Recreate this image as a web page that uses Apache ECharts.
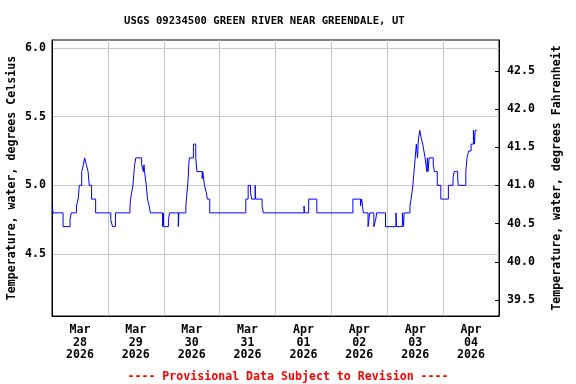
<!DOCTYPE html>
<html>
<head>
<meta charset="utf-8">
<script src="https://cdn.jsdelivr.net/npm/echarts@6/dist/echarts.min.js"></script>
<style>
html,body{margin:0;padding:0;background:#fff;}
#chart{width:576px;height:384px;}
</style>
</head>
<body>
<div id="chart"></div>
<script>
// Hours since 2026-03-28 00:00 at which the reading changes
const hours = [0,0.5,4.75,7.75,8.25,10.5,11.25,11.75,12.75,13.5,14,14.75,15.5,16,17,18.75,
  25.25,26,27.25,33.5,33.75,34.25,34.75,35.25,35.5,36,38.5,39.25,39.5,39.75,40.5,41,41.75,42.25,
  47.5,47.75,48,50,50.5,54.25,54.5,57.5,57.75,58.25,58.5,58.75,59,60.75,61.75,62.25,64.5,64.75,
  65.5,66.25,66.75,67.75,83.25,84.25,85.25,85.75,87.25,87.5,90.25,90.75,108.25,108.5,110.25,113.75,
  129.25,132.5,133,133.75,135.75,136.5,138.25,139,139.5,143.25,147.75,148,150.5,151,151.25,153.75,
  154.25,155,155.5,156,156.5,157,157.25,157.5,158,158.5,159.25,159.75,160.25,161,161.25,161.5,162,
  163.75,164.25,165.5,167,170.25,172.25,172.75,174.25,174.5,177.75,178.25,179,180,181,181.5,181.75,182.5];
// Water temperature, degrees Celsius
const tempC = [4.85,4.8,4.7,4.75,4.8,4.85,4.9,5.0,5.1,5.15,5.2,5.15,5.1,5.0,4.9,4.8,
  4.75,4.7,4.8,4.85,4.9,4.95,5.0,5.1,5.15,5.2,5.15,5.1,5.15,5.1,5.0,4.9,4.85,4.8,
  4.7,4.8,4.7,4.75,4.8,4.7,4.8,4.85,4.9,5.0,5.05,5.15,5.2,5.3,5.2,5.1,5.05,5.1,
  5.0,4.95,4.9,4.8,4.9,5.0,4.95,4.9,5.0,4.9,4.85,4.8,4.85,4.8,4.9,4.8,
  4.9,4.85,4.9,4.8,4.7,4.8,4.7,4.75,4.8,4.7,4.8,4.7,4.8,4.7,4.8,4.85,
  4.9,5.0,5.1,5.2,5.3,5.2,5.3,5.35,5.4,5.35,5.3,5.25,5.2,5.1,5.2,5.1,5.2,
  5.15,5.1,5.0,4.9,5.0,5.05,5.1,5.05,5.0,5.1,5.2,5.25,5.3,5.4,5.3,5.4,5.4];

const dateLabels = ['Mar\n28\n2026','Mar\n29\n2026','Mar\n30\n2026','Mar\n31\n2026',
  'Apr\n01\n2026','Apr\n02\n2026','Apr\n03\n2026','Apr\n04\n2026'];
const celsiusTicks = [4.5, 5.0, 5.5, 6.0];
const fahrenheitTicks = [39.5, 40.0, 40.5, 41.0, 41.5, 42.0, 42.5];

const titleText = 'USGS 09234500 GREEN RIVER NEAR GREENDALE, UT';
const footerText = '---- Provisional Data Subject to Revision ----';
const leftName = 'Temperature, water, degrees Celsius';
const rightName = 'Temperature, water, degrees Fahrenheit';

const cMin = 4.05, cMax = 6.057;
const FONT = 'DejaVu Sans Mono';
const dayStarts = [0,24,48,72,96,120,144,168,192];
const noonPos = dateLabels.map((d,i)=>i*24+12);

const chart = echarts.init(document.getElementById('chart'), null, {renderer:'canvas'});
chart.setOption({
  animation: false,
  backgroundColor: '#fff',
  title: [
    {text: titleText, left: 119, top: 11,
     textStyle:{fontFamily:FONT, fontSize:10.6, fontWeight:'bold', color:'#000'}},
    {text: footerText, left: 'center', top: 366,
     textStyle:{fontFamily:FONT, fontSize:11.6, fontWeight:'bold', color:'#ff0000'}}
  ],
  grid: {left:52, top:40, width:447, height:276, containLabel:false, outerBoundsMode:'none',
    show:true, borderColor:'#000', borderWidth:1, backgroundColor:'transparent'},
  xAxis: {
    type:'value', min:0, max:192,
    axisLine:{show:true, lineStyle:{color:'#000', width:1}},
    axisTick:{show:false, customValues: dayStarts},
    splitLine:{show:true, lineStyle:{color:'#c8c8c8', width:1}},
    axisLabel:{
      customValues: noonPos, margin:8, lineHeight:12.5,
      fontFamily:FONT, fontSize:11.6, fontWeight:'bold', color:'#000',
      formatter:(v)=>dateLabels[Math.round((v-12)/24)]
    }
  },
  yAxis: [
    {type:'value', min:cMin, max:cMax, position:'left',
     name:leftName, nameLocation:'middle', nameGap:34, nameMoveOverlap:false,
     nameTextStyle:{fontFamily:FONT, fontSize:11.6, fontWeight:'bold', color:'#000'},
     axisLine:{show:true, lineStyle:{color:'#000'}},
     axisTick:{show:false, customValues: celsiusTicks},
     splitLine:{show:true, lineStyle:{color:'#c8c8c8', width:1}},
     axisLabel:{customValues: celsiusTicks, margin:6, fontFamily:FONT, fontSize:11.6, fontWeight:'bold', color:'#000',
       formatter:(v)=>v.toFixed(1)}},
    {type:'value', min:cMin*1.8+32, max:cMax*1.8+32, position:'right',
     name:rightName, nameLocation:'middle', nameGap:52, nameRotate:90, nameMoveOverlap:false,
     nameTextStyle:{fontFamily:FONT, fontSize:11.6, fontWeight:'bold', color:'#000'},
     axisLine:{show:true, lineStyle:{color:'#000'}},
     axisTick:{show:true, inside:true, length:4, customValues: fahrenheitTicks, lineStyle:{color:'#000'}},
     splitLine:{show:false},
     axisLabel:{customValues: fahrenheitTicks, margin:8, fontFamily:FONT, fontSize:11.6, fontWeight:'bold', color:'#000',
       formatter:(v)=>v.toFixed(1)}}
  ],
  series: [{
    type:'line', yAxisIndex:0, step:'end', showSymbol:false, symbol:'none',
    lineStyle:{color:'#0000ff', width:1}, silent:true,
    data: hours.map((h,i)=>[h, tempC[i]])
  }]
});
</script>
</body>
</html>
